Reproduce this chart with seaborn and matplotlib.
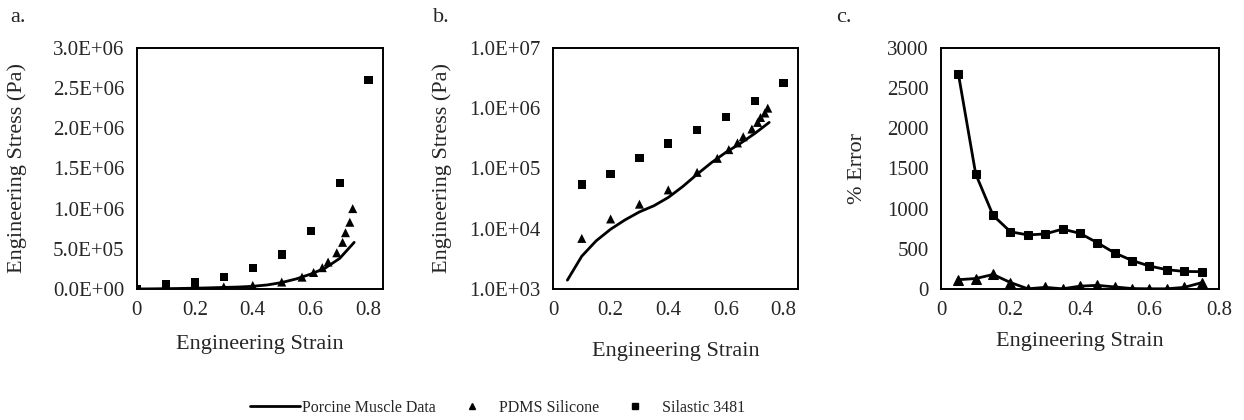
import matplotlib
matplotlib.use("Agg")
import matplotlib.pyplot as plt
from matplotlib.lines import Line2D
from matplotlib.ticker import FixedLocator, FuncFormatter
import seaborn as sns
import pandas as pd
import numpy as np

# ---- data ----
porcine_strain = [0.0, 0.05, 0.10, 0.15, 0.20, 0.25, 0.30, 0.35, 0.40, 0.45, 0.50, 0.55, 0.60, 0.65, 0.70, 0.75]
porcine_stress = [0.0, 1.4e3, 3.5e3, 6.3e3, 9.8e3, 1.4e4, 1.9e4, 2.4e4, 3.3e4, 5.0e4, 8.0e4, 1.25e5, 1.85e5, 2.6e5, 3.8e5, 5.8e5]

pdms_strain = [0.0, 0.10, 0.20, 0.30, 0.40, 0.50, 0.57, 0.61, 0.64, 0.66, 0.69, 0.71, 0.72, 0.735, 0.745]
pdms_stress = [0.0, 6.9e3, 1.45e4, 2.55e4, 4.4e4, 8.6e4, 1.47e5, 2.05e5, 2.65e5, 3.35e5, 4.5e5, 5.8e5, 7.0e5, 8.3e5, 1.0e6]

silastic_strain = [0.0, 0.10, 0.20, 0.30, 0.40, 0.50, 0.60, 0.70, 0.80]
silastic_stress = [0.0, 5.4e4, 8.0e4, 1.48e5, 2.6e5, 4.3e5, 7.2e5, 1.32e6, 2.6e6]

error_strain = [0.05, 0.10, 0.15, 0.20, 0.25, 0.30, 0.35, 0.40, 0.45, 0.50, 0.55, 0.60, 0.65, 0.70, 0.75]
silastic_error = [2680, 1430, 915, 712, 672, 685, 745, 692, 575, 448, 354, 285, 240, 218, 215]
pdms_error = [115, 130, 180, 80, 2, 20, 2, 35, 45, 25, 5, 2, 2, 20, 78]

legend_labels = ["Porcine Muscle Data", "PDMS Silicone", "Silastic 3481"]

porc = pd.DataFrame({"strain": porcine_strain, "stress": porcine_stress})
pdms = pd.DataFrame({"strain": pdms_strain, "stress": pdms_stress})
sil = pd.DataFrame({"strain": silastic_strain, "stress": silastic_stress})
err = pd.DataFrame({"strain": error_strain, "sil": silastic_error, "pdms": pdms_error})

sns.set_style("white")
plt.rcParams["font.family"] = ["Liberation Serif", "DejaVu Serif"]
plt.rcParams["font.size"] = 15

TICK_FS = 15
LAB_FS = 16

fig = plt.figure(figsize=(12.44, 4.2), dpi=100)
H = 0.574
B = 0.312
axA = fig.add_axes([0.110, B, 0.198, H])
axB = fig.add_axes([0.4445, B, 0.197, H])
axC = fig.add_axes([0.7564, B, 0.2235, H])

MS = 6
TS = 6.5

def style(ax):
    for s in ax.spines.values():
        s.set_color("black")
        s.set_linewidth(1.4)
    ax.tick_params(axis="both", which="major", direction="out", length=5, width=1,
                   color="#7f7f7f", labelsize=TICK_FS, pad=4)
    ax.tick_params(axis="y", which="minor", length=0)

def xfmt(v, p):
    return "0" if v == 0 else f"{v:g}"

# ---- panel a ----
sns.lineplot(data=porc, x="strain", y="stress", ax=axA, color="black", lw=2, sort=False)
sns.scatterplot(data=pdms, x="strain", y="stress", ax=axA, marker="^", color="black", s=TS**2, edgecolor="none", zorder=3)
sns.scatterplot(data=sil, x="strain", y="stress", ax=axA, marker="s", color="black", s=MS**2, edgecolor="none", zorder=3)
axA.set_xlim(0, 0.85)
axA.set_ylim(0, 3.0e6)
axA.xaxis.set_major_locator(FixedLocator([0, 0.2, 0.4, 0.6, 0.8]))
axA.xaxis.set_major_formatter(FuncFormatter(xfmt))
axA.yaxis.set_major_locator(FixedLocator(np.arange(0, 3.01e6, 5e5)))
axA.yaxis.set_major_formatter(FuncFormatter(lambda v, p: f"{v:.1E}"))
axA.set_xlabel("Engineering Strain", fontsize=LAB_FS)
axA.set_ylabel("Engineering Stress (Pa)", fontsize=LAB_FS)
axA.xaxis.set_label_coords(0.5, -0.232)
axA.yaxis.set_label_coords(-0.484, 0.5)
axA.xaxis.label.set_va("center")
axA.yaxis.label.set_va("center")
style(axA)

# ---- panel b ----
sns.lineplot(data=porc[porc["stress"] > 0], x="strain", y="stress", ax=axB, color="black", lw=2, sort=False)
sns.scatterplot(data=pdms[pdms["stress"] > 0], x="strain", y="stress", ax=axB, marker="^", color="black", s=TS**2, edgecolor="none", zorder=3)
sns.scatterplot(data=sil[sil["stress"] > 0], x="strain", y="stress", ax=axB, marker="s", color="black", s=MS**2, edgecolor="none", zorder=3)
axB.set_yscale("log")
axB.set_xlim(0, 0.85)
axB.set_ylim(1e3, 1e7)
axB.xaxis.set_major_locator(FixedLocator([0, 0.2, 0.4, 0.6, 0.8]))
axB.xaxis.set_major_formatter(FuncFormatter(xfmt))
axB.yaxis.set_major_locator(FixedLocator([1e3, 1e4, 1e5, 1e6, 1e7]))
axB.yaxis.set_minor_locator(FixedLocator([]))
axB.yaxis.set_major_formatter(FuncFormatter(lambda v, p: f"{v:.1E}"))
axB.set_xlabel("Engineering Strain", fontsize=LAB_FS)
axB.set_ylabel("Engineering Stress (Pa)", fontsize=LAB_FS)
axB.xaxis.set_label_coords(0.5, -0.261)
axB.yaxis.set_label_coords(-0.453, 0.5)
axB.xaxis.label.set_va("center")
axB.yaxis.label.set_va("center")
style(axB)

# ---- panel c ----
sns.lineplot(data=err, x="strain", y="sil", ax=axC, color="black", lw=2, marker="s", markersize=MS, markeredgecolor="black")
sns.lineplot(data=err, x="strain", y="pdms", ax=axC, color="black", lw=2, marker="^", markersize=TS, markeredgecolor="black")
axC.set_xlim(0, 0.8)
axC.set_ylim(0, 3000)
axC.xaxis.set_major_locator(FixedLocator([0, 0.2, 0.4, 0.6, 0.8]))
axC.xaxis.set_major_formatter(FuncFormatter(xfmt))
axC.yaxis.set_major_locator(FixedLocator(np.arange(0, 3001, 500)))
axC.set_xlabel("Engineering Strain", fontsize=LAB_FS)
axC.set_ylabel("% Error", fontsize=LAB_FS)
axC.xaxis.set_label_coords(0.5, -0.22)
axC.yaxis.set_label_coords(-0.30, 0.5)
axC.xaxis.label.set_va("center")
axC.yaxis.label.set_va("center")
style(axC)

# panel letters
fig.text(10 / 1244, 1 - 18 / 420, "a.", fontsize=16, va="center", ha="left")
fig.text(433 / 1244, 1 - 18 / 420, "b.", fontsize=16, va="center", ha="left")
fig.text(836 / 1244, 1 - 18 / 420, "c.", fontsize=16, va="center", ha="left")

handles = [
    Line2D([], [], color="black", lw=2),
    Line2D([], [], color="black", lw=0, marker="^", markersize=4),
    Line2D([], [], color="black", lw=0, marker="s", markersize=4),
]
fig.legend(handles, legend_labels, loc="center left", bbox_to_anchor=(250 / 1244, 1 - 408 / 420),
           ncol=3, frameon=False, fontsize=11.5, handlelength=3.1, handletextpad=0.15,
           columnspacing=0.7, borderpad=0, borderaxespad=0)

fig.savefig("out.png", dpi=100)
